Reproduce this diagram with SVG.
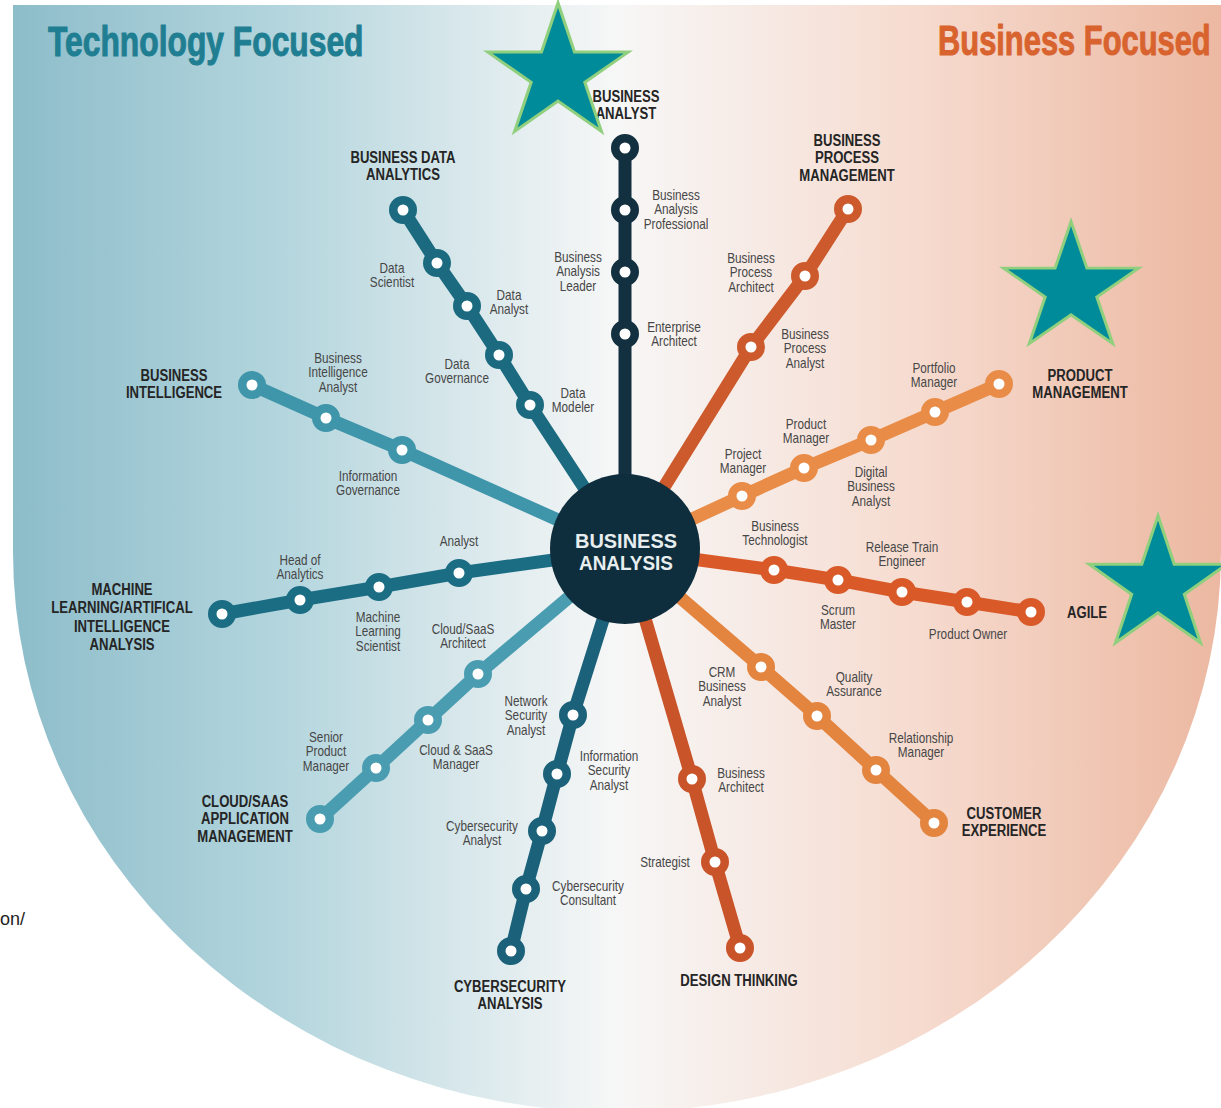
<svg xmlns="http://www.w3.org/2000/svg" xmlns:xlink="http://www.w3.org/1999/xlink" width="1221" height="1108" viewBox="0 0 1221 1108">
<defs>
<linearGradient id="bg" gradientUnits="userSpaceOnUse" x1="13" y1="0" x2="1221" y2="0">
<stop offset="0" stop-color="#8dbdca"/>
<stop offset="0.22" stop-color="#b3d5dd"/>
<stop offset="0.5" stop-color="#f7f7f7"/>
<stop offset="0.75" stop-color="#f6dbcf"/>
<stop offset="1" stop-color="#ecb8a1"/>
</linearGradient>
<polygon id="star" points="0,-71 15.9,-21.9 67.5,-21.9 25.8,8.4 41.7,57.4 0,27.1 -41.7,57.4 -25.8,8.4 -67.5,-21.9 -15.9,-21.9"/>
<style>
.track{fill:none;stroke-width:13;stroke-linejoin:round;stroke-linecap:round}
.stn{fill:#fff;stroke-width:8.5}
.star{fill:#008b9a;stroke:#8fcf7d;stroke-width:3;stroke-linejoin:miter}
.h{font-family:"Liberation Sans",Arial,sans-serif;font-weight:bold;font-size:16px;fill:#252525;text-anchor:middle}
.s{font-family:"Liberation Sans",Arial,sans-serif;font-size:14px;fill:#474747;text-anchor:middle}
.title{font-family:"Liberation Sans",Arial,sans-serif;font-weight:bold;font-size:42px;stroke-width:1;stroke-linejoin:round}
.ba{stroke:#12303f}.bda{stroke:#1b6a80}.bi{stroke:#3f95a9}.ml{stroke:#1b6d84}.cl{stroke:#4a9db0}.cy{stroke:#1a6179}
.dt{stroke:#c9542a}.cx{stroke:#e3843f}.ag{stroke:#d95a28}.pm{stroke:#e98c47}.bpm{stroke:#cd5a2c}
</style>
</defs>

<path d="M13,5 H1221 V552 A604,560 0 0 1 617,1112 A604,560 0 0 1 13,552 Z" fill="url(#bg)"/>

<text class="title" transform="translate(48 56) scale(0.757 1)" fill="#1f7e91" stroke="#1f7e91">Technology Focused</text>
<text class="title" transform="translate(938 55) scale(0.735 1)" fill="#d8632e" stroke="#d8632e">Business Focused</text>
<text x="0" y="925" font-family="Liberation Sans,Arial,sans-serif" font-size="18" fill="#222">on/</text>

<g id="connectors">
<polyline class="track ba" points="625,550 625,334 625,272 625,210 625,148"/>
<polyline class="track bda" points="625,550 530,405 499,355 467,306 437,263 403,210"/>
<polyline class="track bi" points="625,550 402,450 326,418 252,385"/>
<polyline class="track ml" points="625,550 459,573 379,587 300,600 222,614"/>
<polyline class="track cl" points="625,550 478,674 428,720 376,768 320,819"/>
<polyline class="track cy" points="625,550 573,715 557,774 542,831 526,889 511,951"/>
<polyline class="track dt" points="625,550 692,779 715,862 740,948"/>
<polyline class="track cx" points="625,550 761,667 817,716 876,770 934,823"/>
<polyline class="track ag" points="625,550 774,570 838,580 902,592 967,602 1031,612"/>
<polyline class="track pm" points="625,550 742,496 804,468 871,440 935,412 999,384"/>
<polyline class="track bpm" points="625,550 751,347 805,276 848,209"/>
</g>

<g id="hub">
<circle cx="625" cy="549" r="75" fill="#0f2e3d"/>
<text x="626" y="548" font-family="Liberation Sans,Arial,sans-serif" font-weight="bold" font-size="21" fill="#e8eef0" text-anchor="middle" textLength="102" lengthAdjust="spacingAndGlyphs">BUSINESS</text>
<text x="626" y="570" font-family="Liberation Sans,Arial,sans-serif" font-weight="bold" font-size="21" fill="#e8eef0" text-anchor="middle" textLength="94" lengthAdjust="spacingAndGlyphs">ANALYSIS</text>
</g>

<!-- Business Analyst track -->
<g id="business-analyst">
<circle class="stn ba" cx="625" cy="148" r="9.75"/>
<text class="h" transform="translate(626 102) scale(0.82 1)"><tspan x="0">BUSINESS</tspan><tspan x="0" dy="17">ANALYST</tspan></text>
</g>
<g id="ba-professional">
<circle class="stn ba" cx="625" cy="210" r="9.75"/>
<text class="s" transform="translate(676 200) scale(0.84 1)"><tspan x="0">Business</tspan><tspan x="0" dy="14.5">Analysis</tspan><tspan x="0" dy="14.5">Professional</tspan></text>
</g>
<g id="ba-leader">
<circle class="stn ba" cx="625" cy="272" r="9.75"/>
<text class="s" transform="translate(578 262) scale(0.84 1)"><tspan x="0">Business</tspan><tspan x="0" dy="14.5">Analysis</tspan><tspan x="0" dy="14.5">Leader</tspan></text>
</g>
<g id="enterprise-architect">
<circle class="stn ba" cx="625" cy="334" r="9.75"/>
<text class="s" transform="translate(674 332) scale(0.84 1)"><tspan x="0">Enterprise</tspan><tspan x="0" dy="14.5">Architect</tspan></text>
</g>

<!-- Business Data Analytics -->
<g id="business-data-analytics">
<circle class="stn bda" cx="403" cy="210" r="9.75"/>
<text class="h" transform="translate(403 163) scale(0.82 1)"><tspan x="0">BUSINESS DATA</tspan><tspan x="0" dy="17.5">ANALYTICS</tspan></text>
</g>
<g id="data-scientist">
<circle class="stn bda" cx="437" cy="263" r="9.75"/>
<text class="s" transform="translate(392 273) scale(0.84 1)"><tspan x="0">Data</tspan><tspan x="0" dy="14.5">Scientist</tspan></text>
</g>
<g id="data-analyst">
<circle class="stn bda" cx="467" cy="306" r="9.75"/>
<text class="s" transform="translate(509 300) scale(0.84 1)"><tspan x="0">Data</tspan><tspan x="0" dy="14.5">Analyst</tspan></text>
</g>
<g id="data-governance">
<circle class="stn bda" cx="499" cy="355" r="9.75"/>
<text class="s" transform="translate(457 369) scale(0.84 1)"><tspan x="0">Data</tspan><tspan x="0" dy="14.5">Governance</tspan></text>
</g>
<g id="data-modeler">
<circle class="stn bda" cx="530" cy="405" r="9.75"/>
<text class="s" transform="translate(573 398) scale(0.84 1)"><tspan x="0">Data</tspan><tspan x="0" dy="14.5">Modeler</tspan></text>
</g>

<!-- Business Intelligence -->
<g id="business-intelligence">
<circle class="stn bi" cx="252" cy="385" r="9.75"/>
<text class="h" transform="translate(174 381) scale(0.82 1)"><tspan x="0">BUSINESS</tspan><tspan x="0" dy="17.5">INTELLIGENCE</tspan></text>
</g>
<g id="bi-analyst">
<circle class="stn bi" cx="326" cy="418" r="9.75"/>
<text class="s" transform="translate(338 363) scale(0.84 1)"><tspan x="0">Business</tspan><tspan x="0" dy="14.5">Intelligence</tspan><tspan x="0" dy="14.5">Analyst</tspan></text>
</g>
<g id="information-governance">
<circle class="stn bi" cx="402" cy="450" r="9.75"/>
<text class="s" transform="translate(368 481) scale(0.84 1)"><tspan x="0">Information</tspan><tspan x="0" dy="14.5">Governance</tspan></text>
</g>

<!-- Machine Learning / AI -->
<g id="ml-ai-analysis">
<circle class="stn ml" cx="222" cy="614" r="9.75"/>
<text class="h" transform="translate(122 595) scale(0.82 1)"><tspan x="0">MACHINE</tspan><tspan x="0" dy="18.3">LEARNING/ARTIFICAL</tspan><tspan x="0" dy="18.3">INTELLIGENCE</tspan><tspan x="0" dy="18.3">ANALYSIS</tspan></text>
</g>
<g id="head-of-analytics">
<circle class="stn ml" cx="300" cy="600" r="9.75"/>
<text class="s" transform="translate(300 565) scale(0.84 1)"><tspan x="0">Head of</tspan><tspan x="0" dy="14.5">Analytics</tspan></text>
</g>
<g id="ml-scientist">
<circle class="stn ml" cx="379" cy="587" r="9.75"/>
<text class="s" transform="translate(378 622) scale(0.84 1)"><tspan x="0">Machine</tspan><tspan x="0" dy="14.5">Learning</tspan><tspan x="0" dy="14.5">Scientist</tspan></text>
</g>
<g id="ml-analyst">
<circle class="stn ml" cx="459" cy="573" r="9.75"/>
<text class="s" transform="translate(459 546) scale(0.84 1)"><tspan x="0">Analyst</tspan></text>
</g>

<!-- Cloud / SaaS -->
<g id="cloud-saas-management">
<circle class="stn cl" cx="320" cy="819" r="9.75"/>
<text class="h" transform="translate(245 807) scale(0.82 1)"><tspan x="0">CLOUD/SAAS</tspan><tspan x="0" dy="17.5">APPLICATION</tspan><tspan x="0" dy="17.5">MANAGEMENT</tspan></text>
</g>
<g id="senior-product-manager">
<circle class="stn cl" cx="376" cy="768" r="9.75"/>
<text class="s" transform="translate(326 742) scale(0.84 1)"><tspan x="0">Senior</tspan><tspan x="0" dy="14.5">Product</tspan><tspan x="0" dy="14.5">Manager</tspan></text>
</g>
<g id="cloud-saas-manager">
<circle class="stn cl" cx="428" cy="720" r="9.75"/>
<text class="s" transform="translate(456 755) scale(0.84 1)"><tspan x="0">Cloud &amp; SaaS</tspan><tspan x="0" dy="14.5">Manager</tspan></text>
</g>
<g id="cloud-saas-architect">
<circle class="stn cl" cx="478" cy="674" r="9.75"/>
<text class="s" transform="translate(463 634) scale(0.84 1)"><tspan x="0">Cloud/SaaS</tspan><tspan x="0" dy="14.5">Architect</tspan></text>
</g>

<!-- Cybersecurity -->
<g id="cybersecurity-analysis">
<circle class="stn cy" cx="511" cy="951" r="9.75"/>
<text class="h" transform="translate(510 992) scale(0.82 1)"><tspan x="0">CYBERSECURITY</tspan><tspan x="0" dy="17">ANALYSIS</tspan></text>
</g>
<g id="cybersecurity-consultant">
<circle class="stn cy" cx="526" cy="889" r="9.75"/>
<text class="s" transform="translate(588 891) scale(0.84 1)"><tspan x="0">Cybersecurity</tspan><tspan x="0" dy="14.5">Consultant</tspan></text>
</g>
<g id="cybersecurity-analyst">
<circle class="stn cy" cx="542" cy="831" r="9.75"/>
<text class="s" transform="translate(482 831) scale(0.84 1)"><tspan x="0">Cybersecurity</tspan><tspan x="0" dy="14.5">Analyst</tspan></text>
</g>
<g id="information-security-analyst">
<circle class="stn cy" cx="557" cy="774" r="9.75"/>
<text class="s" transform="translate(609 761) scale(0.84 1)"><tspan x="0">Information</tspan><tspan x="0" dy="14.5">Security</tspan><tspan x="0" dy="14.5">Analyst</tspan></text>
</g>
<g id="network-security-analyst">
<circle class="stn cy" cx="573" cy="715" r="9.75"/>
<text class="s" transform="translate(526 706) scale(0.84 1)"><tspan x="0">Network</tspan><tspan x="0" dy="14.5">Security</tspan><tspan x="0" dy="14.5">Analyst</tspan></text>
</g>

<!-- Design Thinking -->
<g id="design-thinking">
<circle class="stn dt" cx="740" cy="948" r="9.75"/>
<text class="h" transform="translate(739 986) scale(0.82 1)"><tspan x="0">DESIGN THINKING</tspan></text>
</g>
<g id="strategist">
<circle class="stn dt" cx="715" cy="862" r="9.75"/>
<text class="s" transform="translate(665 867) scale(0.84 1)"><tspan x="0">Strategist</tspan></text>
</g>
<g id="business-architect">
<circle class="stn dt" cx="692" cy="779" r="9.75"/>
<text class="s" transform="translate(741 778) scale(0.84 1)"><tspan x="0">Business</tspan><tspan x="0" dy="14.5">Architect</tspan></text>
</g>

<!-- Customer Experience -->
<g id="customer-experience">
<circle class="stn cx" cx="934" cy="823" r="9.75"/>
<text class="h" transform="translate(1004 819) scale(0.82 1)"><tspan x="0">CUSTOMER</tspan><tspan x="0" dy="17">EXPERIENCE</tspan></text>
</g>
<g id="relationship-manager">
<circle class="stn cx" cx="876" cy="770" r="9.75"/>
<text class="s" transform="translate(921 743) scale(0.84 1)"><tspan x="0">Relationship</tspan><tspan x="0" dy="14.5">Manager</tspan></text>
</g>
<g id="quality-assurance">
<circle class="stn cx" cx="817" cy="716" r="9.75"/>
<text class="s" transform="translate(854 682) scale(0.84 1)"><tspan x="0">Quality</tspan><tspan x="0" dy="14.5">Assurance</tspan></text>
</g>
<g id="crm-business-analyst">
<circle class="stn cx" cx="761" cy="667" r="9.75"/>
<text class="s" transform="translate(722 677) scale(0.84 1)"><tspan x="0">CRM</tspan><tspan x="0" dy="14.5">Business</tspan><tspan x="0" dy="14.5">Analyst</tspan></text>
</g>

<!-- Agile -->
<g id="agile">
<circle class="stn ag" cx="1031" cy="612" r="9.75"/>
<text class="h" transform="translate(1087 618) scale(0.82 1)"><tspan x="0">AGILE</tspan></text>
</g>
<g id="product-owner">
<circle class="stn ag" cx="967" cy="602" r="9.75"/>
<text class="s" transform="translate(968 639) scale(0.84 1)"><tspan x="0">Product Owner</tspan></text>
</g>
<g id="release-train-engineer">
<circle class="stn ag" cx="902" cy="592" r="9.75"/>
<text class="s" transform="translate(902 552) scale(0.84 1)"><tspan x="0">Release Train</tspan><tspan x="0" dy="14.5">Engineer</tspan></text>
</g>
<g id="scrum-master">
<circle class="stn ag" cx="838" cy="580" r="9.75"/>
<text class="s" transform="translate(838 615) scale(0.84 1)"><tspan x="0">Scrum</tspan><tspan x="0" dy="14.5">Master</tspan></text>
</g>
<g id="business-technologist">
<circle class="stn ag" cx="774" cy="570" r="9.75"/>
<text class="s" transform="translate(775 531) scale(0.84 1)"><tspan x="0">Business</tspan><tspan x="0" dy="14.5">Technologist</tspan></text>
</g>

<!-- Product Management -->
<g id="product-management">
<circle class="stn pm" cx="999" cy="384" r="9.75"/>
<text class="h" transform="translate(1080 381) scale(0.82 1)"><tspan x="0">PRODUCT</tspan><tspan x="0" dy="17">MANAGEMENT</tspan></text>
</g>
<g id="portfolio-manager">
<circle class="stn pm" cx="935" cy="412" r="9.75"/>
<text class="s" transform="translate(934 373) scale(0.84 1)"><tspan x="0">Portfolio</tspan><tspan x="0" dy="14.5">Manager</tspan></text>
</g>
<g id="digital-business-analyst">
<circle class="stn pm" cx="871" cy="440" r="9.75"/>
<text class="s" transform="translate(871 477) scale(0.84 1)"><tspan x="0">Digital</tspan><tspan x="0" dy="14.5">Business</tspan><tspan x="0" dy="14.5">Analyst</tspan></text>
</g>
<g id="product-manager">
<circle class="stn pm" cx="804" cy="468" r="9.75"/>
<text class="s" transform="translate(806 429) scale(0.84 1)"><tspan x="0">Product</tspan><tspan x="0" dy="14.5">Manager</tspan></text>
</g>
<g id="project-manager">
<circle class="stn pm" cx="742" cy="496" r="9.75"/>
<text class="s" transform="translate(743 459) scale(0.84 1)"><tspan x="0">Project</tspan><tspan x="0" dy="14.5">Manager</tspan></text>
</g>

<!-- Business Process Management -->
<g id="business-process-management">
<circle class="stn bpm" cx="848" cy="209" r="9.75"/>
<text class="h" transform="translate(847 146) scale(0.82 1)"><tspan x="0">BUSINESS</tspan><tspan x="0" dy="17.5">PROCESS</tspan><tspan x="0" dy="17.5">MANAGEMENT</tspan></text>
</g>
<g id="business-process-architect">
<circle class="stn bpm" cx="805" cy="276" r="9.75"/>
<text class="s" transform="translate(751 263) scale(0.84 1)"><tspan x="0">Business</tspan><tspan x="0" dy="14.5">Process</tspan><tspan x="0" dy="14.5">Architect</tspan></text>
</g>
<g id="business-process-analyst">
<circle class="stn bpm" cx="751" cy="347" r="9.75"/>
<text class="s" transform="translate(805 339) scale(0.84 1)"><tspan x="0">Business</tspan><tspan x="0" dy="14.5">Process</tspan><tspan x="0" dy="14.5">Analyst</tspan></text>
</g>

<g id="stars">
<use xlink:href="#star" class="star" transform="translate(558 74) scale(1.04 1)"/>
<use xlink:href="#star" class="star" transform="translate(1071 289) scale(1.0 0.95)"/>
<use xlink:href="#star" class="star" transform="translate(1158 586) scale(1.02 0.99)"/>
</g>
</svg>
